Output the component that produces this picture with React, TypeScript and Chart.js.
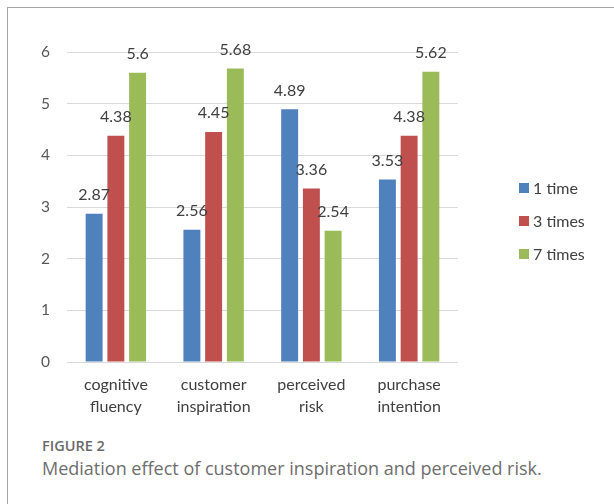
import React, { useEffect, useRef } from "react";
import { Chart, registerables } from "chart.js";

Chart.register(...registerables);

const categories: string[][] = [
  ["cognitive", "fluency"],
  ["customer", "inspiration"],
  ["perceived", "risk"],
  ["purchase", "intention"],
];
const seriesNames: string[] = ["1 time", "3 times", "7 times"];
const oneTime: number[] = [2.87, 2.56, 4.89, 3.53];
const threeTimes: number[] = [4.38, 4.45, 3.36, 4.38];
const sevenTimes: number[] = [5.6, 5.68, 2.54, 5.62];
const seriesColors: string[] = ["#4F81BD", "#C0504D", "#9BBB59"];
const yMin = 0;
const yMax = 6;
const yStep = 1;

const FONT = "Lato, 'Open Sans', sans-serif";

const labelPlugin = {
  id: "barValueLabels",
  afterDatasetsDraw(chart: any) {
    const ctx = chart.ctx;
    ctx.save();
    ctx.font = `16px ${FONT}`;
    ctx.fillStyle = "#404040";
    ctx.textAlign = "center";
    ctx.textBaseline = "middle";
    chart.data.datasets.forEach((ds: any, i: number) => {
      const meta = chart.getDatasetMeta(i);
      meta.data.forEach((bar: any, j: number) => {
        ctx.fillText(String(ds.data[j]), bar.x, bar.y - 19);
      });
    });
    ctx.restore();
  },
};

const legendPlugin = {
  id: "sideLegend",
  afterDraw(chart: any) {
    const ctx = chart.ctx;
    const area = chart.chartArea;
    const x = area.right + 61;
    const yc = (area.top + area.bottom) / 2 - 19;
    ctx.save();
    ctx.font = `16px ${FONT}`;
    ctx.textAlign = "left";
    ctx.textBaseline = "middle";
    chart.data.datasets.forEach((ds: any, i: number) => {
      const y = yc + i * 33;
      ctx.fillStyle = ds.backgroundColor;
      ctx.fillRect(x, y - 5, 10, 10);
      ctx.fillStyle = "#404040";
      ctx.fillText(ds.label, x + 14, y + 1);
    });
    ctx.restore();
  },
};

function BarChart() {
  const ref = useRef<HTMLCanvasElement | null>(null);
  useEffect(() => {
    if (!ref.current) return;
    const values = [oneTime, threeTimes, sevenTimes];
    const chart = new Chart(ref.current, {
      type: "bar",
      data: {
        labels: categories,
        datasets: seriesNames.map((name, i) => ({
          label: name,
          data: values[i],
          backgroundColor: seriesColors[i],
          borderWidth: 0,
          categoryPercentage: 0.667,
          barPercentage: 0.78,
        })),
      },
      options: {
        responsive: false,
        animation: false,
        devicePixelRatio: 1,
        layout: { padding: { top: 52, right: 156, left: 0, bottom: 0 } },
        plugins: {
          legend: { display: false },
          tooltip: { enabled: false },
        },
        scales: {
          x: {
            grid: { display: false, drawTicks: false },
            border: { display: false },
            ticks: {
              color: "#404040",
              font: { family: FONT, size: 16, lineHeight: 1.375 },
              padding: 12,
              maxRotation: 0,
              autoSkip: false,
            },
            afterFit(scale: any) {
              scale.height = 68;
            },
          },
          y: {
            min: yMin,
            max: yMax,
            grid: { color: "#D9D9D9", lineWidth: 1, drawTicks: false },
            border: { display: false },
            ticks: {
              stepSize: yStep,
              color: "#595959",
              font: { family: FONT, size: 15.5 },
              padding: 17,
            },
            afterFit(scale: any) {
              scale.width = 67;
            },
          },
        },
      },
      plugins: [labelPlugin, legendPlugin],
    });
    return () => chart.destroy();
  }, []);
  return (
    <canvas
      ref={ref}
      width={614}
      height={430}
      style={{ position: "absolute", left: 0, top: 0, width: 614, height: 430 }}
    />
  );
}

export default function App() {
  return (
    <div
      style={{
        position: "fixed",
        left: 0,
        top: 0,
        width: 614,
        height: 504,
        background: "#ffffff",
        overflow: "hidden",
      }}
    >
      <div
        style={{
          position: "absolute",
          left: 7,
          top: 7,
          width: 800,
          height: 700,
          border: "1px solid #A6A6A6",
          boxSizing: "border-box",
        }}
      />
      <BarChart />
      <div
        style={{
          position: "absolute",
          left: 42,
          top: 437,
          fontFamily: "'Open Sans', sans-serif",
          fontSize: 14.5,
          fontWeight: 600,
          color: "#6a6a6a",
          lineHeight: "18px",
          whiteSpace: "nowrap",
        }}
      >
        FIGURE 2
      </div>
      <div
        style={{
          position: "absolute",
          left: 42,
          top: 456,
          fontFamily: "'Open Sans', sans-serif",
          fontSize: 18,
          fontWeight: 400,
          color: "#6e6e6e",
          lineHeight: "24px",
          whiteSpace: "nowrap",
        }}
      >
        Mediation effect of customer inspiration and perceived risk.
      </div>
    </div>
  );
}
